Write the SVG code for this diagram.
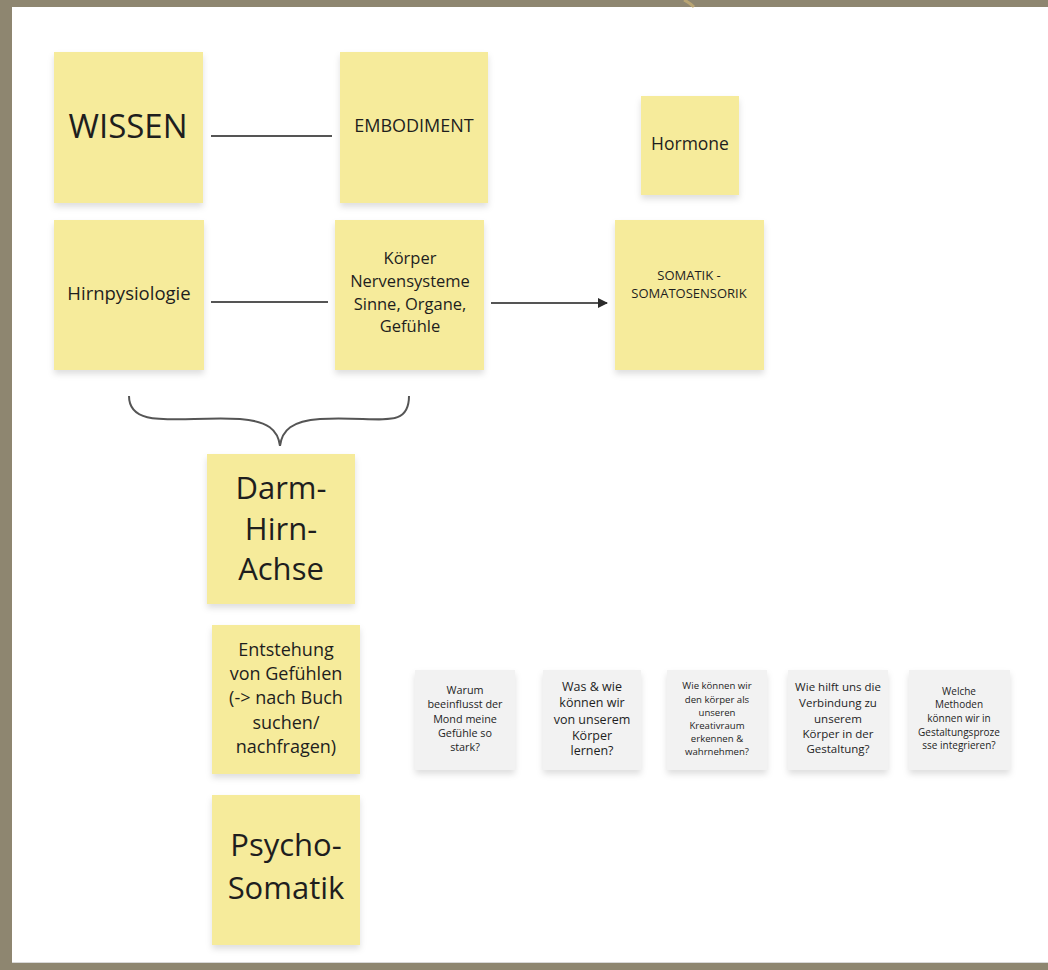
<svg xmlns="http://www.w3.org/2000/svg" width="1048" height="970" viewBox="0 0 1048 970">
<defs>
<filter id="sh" x="-10%" y="-10%" width="120%" height="125%">
<feDropShadow dx="0" dy="4" stdDeviation="3" flood-color="#000" flood-opacity="0.13"/>
</filter>
<marker id="arr" markerWidth="10" markerHeight="10" refX="9" refY="5" orient="auto" markerUnits="userSpaceOnUse">
<path d="M0,0 L10,5 L0,10 Z" fill="#2b2b2b"/>
</marker>
<style>
.y{fill:#f6eb9b;filter:url(#sh)}
.g{fill:#f2f2f2;filter:url(#sh)}
.t{font-family:"Open Sans","Noto Sans","DejaVu Sans",sans-serif;fill:#1e1e1e;text-anchor:middle}
.c{stroke:#555;stroke-width:2;fill:none}
</style>
</defs>
<rect x="0" y="0" width="1048" height="970" fill="#8e8670"/>
<rect x="12" y="7" width="1036" height="956" fill="#ffffff"/>
<line x1="12" y1="962.5" x2="1048" y2="962.5" stroke="#d8d8d8" stroke-width="1"/>
<path d="M684,0 Q690,3 694,7" stroke="#c4ad74" stroke-width="3" fill="none" opacity="0.8"/>

<g id="connectors">
<line class="c" x1="211" y1="136" x2="332" y2="136"/>
<line class="c" x1="211" y1="302" x2="328" y2="302"/>
<line class="c" x1="491" y1="303" x2="607" y2="303" stroke="#333" marker-end="url(#arr)"/>
<path class="c" d="M129,396 C129,430 180,416 240,419 C268,421 278,430 280,446 C282,430 292,421 320,419 C380,416 409,430 409,396"/>
</g>

<g id="wissen"><rect class="y" x="54" y="52" width="149" height="151"/>
<text class="t" x="128" y="138" font-size="33">WISSEN</text></g>

<g id="embodiment"><rect class="y" x="340" y="52" width="148" height="151"/>
<text class="t" x="414" y="132" font-size="18">EMBODIMENT</text></g>

<g id="hormone"><rect class="y" x="641" y="96" width="98" height="99"/>
<text class="t" x="690" y="150" font-size="17.5">Hormone</text></g>

<g id="hirnpysiologie"><rect class="y" x="54" y="220" width="150" height="150"/>
<text class="t" x="129" y="300" font-size="18.5">Hirnpysiologie</text></g>

<g id="koerper"><rect class="y" x="335" y="220" width="149" height="150"/>
<text class="t" font-size="16.5"><tspan x="410" y="264">Körper</tspan><tspan x="410" y="287">Nervensysteme</tspan><tspan x="410" y="310">Sinne, Organe,</tspan><tspan x="410" y="332">Gefühle</tspan></text></g>

<g id="somatik"><rect class="y" x="615" y="220" width="149" height="150"/>
<text class="t" font-size="13"><tspan x="689" y="280">SOMATIK -</tspan><tspan x="689" y="298">SOMATOSENSORIK</tspan></text></g>

<g id="darm"><rect class="y" x="207" y="454" width="148" height="150"/>
<text class="t" font-size="31"><tspan x="281" y="499">Darm-</tspan><tspan x="281" y="540">Hirn-</tspan><tspan x="281" y="580">Achse</tspan></text></g>

<g id="entstehung"><rect class="y" x="212" y="625" width="148" height="149"/>
<text class="t" font-size="18"><tspan x="286" y="656">Entstehung</tspan><tspan x="286" y="680">von Gefühlen</tspan><tspan x="286" y="704">(-&gt; nach Buch</tspan><tspan x="286" y="729">suchen/</tspan><tspan x="286" y="753">nachfragen)</tspan></text></g>

<g id="psycho"><rect class="y" x="212" y="795" width="148" height="150"/>
<text class="t" font-size="31"><tspan x="286" y="856">Psycho-</tspan><tspan x="286" y="899">Somatik</tspan></text></g>

<g id="q1"><rect class="g" x="415" y="670" width="100" height="100"/>
<text class="t" font-size="10.8"><tspan x="465" y="694">Warum</tspan><tspan x="465" y="708">beeinflusst der</tspan><tspan x="465" y="723">Mond meine</tspan><tspan x="465" y="737">Gefühle so</tspan><tspan x="465" y="751">stark?</tspan></text></g>

<g id="q2"><rect class="g" x="543" y="670" width="98" height="100"/>
<text class="t" font-size="12.5"><tspan x="592" y="691">Was &amp; wie</tspan><tspan x="592" y="707">können wir</tspan><tspan x="592" y="724">von unserem</tspan><tspan x="592" y="740">Körper</tspan><tspan x="592" y="755">lernen?</tspan></text></g>

<g id="q3"><rect class="g" x="667" y="670" width="100" height="100"/>
<text class="t" font-size="9.6"><tspan x="717" y="689">Wie können wir</tspan><tspan x="717" y="703">den körper als</tspan><tspan x="717" y="716">unseren</tspan><tspan x="717" y="729">Kreativraum</tspan><tspan x="717" y="742">erkennen &amp;</tspan><tspan x="717" y="755">wahrnehmen?</tspan></text></g>

<g id="q4"><rect class="g" x="788" y="670" width="100" height="100"/>
<text class="t" font-size="11.5"><tspan x="838" y="691">Wie hilft uns die</tspan><tspan x="838" y="707">Verbindung zu</tspan><tspan x="838" y="723">unserem</tspan><tspan x="838" y="738">Körper in der</tspan><tspan x="838" y="753">Gestaltung?</tspan></text></g>

<g id="q5"><rect class="g" x="909" y="670" width="101" height="100"/>
<text class="t" font-size="10"><tspan x="959" y="695">Welche</tspan><tspan x="959" y="708">Methoden</tspan><tspan x="959" y="722">können wir in</tspan><tspan x="959" y="736">Gestaltungsproze</tspan><tspan x="959" y="749">sse integrieren?</tspan></text></g>
</svg>
